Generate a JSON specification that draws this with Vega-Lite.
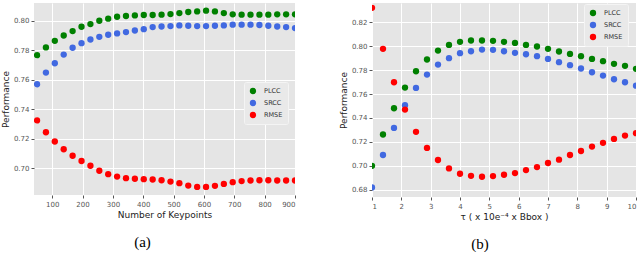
{
 "$schema": "https://vega.github.io/schema/vega-lite/v6.json",
 "padding": {"left": 1, "top": 3, "right": 2, "bottom": 0},
 "spacing": 43,
 "background": "white",
 "config": {
  "view": {"fill": "#E5E5E5", "stroke": null},
  "axis": {"domain": false, "gridColor": "white", "gridWidth": 1, "tickColor": "#555555", "tickSize": 3, "labelColor": "#555555", "labelFontSize": 7, "labelFont": "DejaVu Sans", "titleFont": "DejaVu Sans", "titleFontSize": 9, "titleFontWeight": "normal", "titleColor": "#222222", "labelPadding": 2, "titlePadding": 3},
  "title": {"font": "Liberation Serif", "fontSize": 15, "fontWeight": "normal", "color": "#000000"},
  "legend": {"fillColor": "#E9E9E9", "strokeColor": "#F4F4F4", "padding": 5, "symbolSize": 40, "symbolType": "circle", "labelFontSize": 6.5, "labelFont": "DejaVu Sans", "labelColor": "#333333", "rowPadding": 4, "labelOffset": 7, "cornerRadius": 2}
 },
 "resolve": {"scale": {"color": "independent"}, "legend": {"color": "independent"}},
 "datasets": {
  "a": [
   {"x":50,"metric":"PLCC","value":0.7767},{"x":50,"metric":"SRCC","value":0.757},{"x":50,"metric":"RMSE","value":0.7325},
   {"x":79.3,"metric":"PLCC","value":0.7819},{"x":79.3,"metric":"SRCC","value":0.7649},{"x":79.3,"metric":"RMSE","value":0.7245},
   {"x":108.6,"metric":"PLCC","value":0.7864},{"x":108.6,"metric":"SRCC","value":0.7712},{"x":108.6,"metric":"RMSE","value":0.7182},
   {"x":137.9,"metric":"PLCC","value":0.790},{"x":137.9,"metric":"SRCC","value":0.7771},{"x":137.9,"metric":"RMSE","value":0.713},
   {"x":167.2,"metric":"PLCC","value":0.793},{"x":167.2,"metric":"SRCC","value":0.7817},{"x":167.2,"metric":"RMSE","value":0.7086},
   {"x":196.6,"metric":"PLCC","value":0.7959},{"x":196.6,"metric":"SRCC","value":0.7848},{"x":196.6,"metric":"RMSE","value":0.705},
   {"x":225.9,"metric":"PLCC","value":0.7977},{"x":225.9,"metric":"SRCC","value":0.7873},{"x":225.9,"metric":"RMSE","value":0.7018},
   {"x":255.2,"metric":"PLCC","value":0.800},{"x":255.2,"metric":"SRCC","value":0.7891},{"x":255.2,"metric":"RMSE","value":0.6984},
   {"x":284.5,"metric":"PLCC","value":0.8014},{"x":284.5,"metric":"SRCC","value":0.7905},{"x":284.5,"metric":"RMSE","value":0.6961},
   {"x":313.8,"metric":"PLCC","value":0.8027},{"x":313.8,"metric":"SRCC","value":0.7914},{"x":313.8,"metric":"RMSE","value":0.6945},
   {"x":343.1,"metric":"PLCC","value":0.8032},{"x":343.1,"metric":"SRCC","value":0.7923},{"x":343.1,"metric":"RMSE","value":0.6934},
   {"x":372.4,"metric":"PLCC","value":0.8036},{"x":372.4,"metric":"SRCC","value":0.7934},{"x":372.4,"metric":"RMSE","value":0.693},
   {"x":401.7,"metric":"PLCC","value":0.8039},{"x":401.7,"metric":"SRCC","value":0.7943},{"x":401.7,"metric":"RMSE","value":0.6927},
   {"x":431.0,"metric":"PLCC","value":0.8039},{"x":431.0,"metric":"SRCC","value":0.7957},{"x":431.0,"metric":"RMSE","value":0.6925},
   {"x":460.3,"metric":"PLCC","value":0.8041},{"x":460.3,"metric":"SRCC","value":0.7961},{"x":460.3,"metric":"RMSE","value":0.692},
   {"x":489.7,"metric":"PLCC","value":0.8045},{"x":489.7,"metric":"SRCC","value":0.7964},{"x":489.7,"metric":"RMSE","value":0.6911},
   {"x":519.0,"metric":"PLCC","value":0.8052},{"x":519.0,"metric":"SRCC","value":0.7968},{"x":519.0,"metric":"RMSE","value":0.690},
   {"x":548.3,"metric":"PLCC","value":0.8059},{"x":548.3,"metric":"SRCC","value":0.7966},{"x":548.3,"metric":"RMSE","value":0.6884},
   {"x":577.6,"metric":"PLCC","value":0.8063},{"x":577.6,"metric":"SRCC","value":0.7964},{"x":577.6,"metric":"RMSE","value":0.6875},
   {"x":606.9,"metric":"PLCC","value":0.8068},{"x":606.9,"metric":"SRCC","value":0.7964},{"x":606.9,"metric":"RMSE","value":0.6875},
   {"x":636.2,"metric":"PLCC","value":0.8063},{"x":636.2,"metric":"SRCC","value":0.7966},{"x":636.2,"metric":"RMSE","value":0.6882},
   {"x":665.5,"metric":"PLCC","value":0.8052},{"x":665.5,"metric":"SRCC","value":0.7968},{"x":665.5,"metric":"RMSE","value":0.6895},
   {"x":694.8,"metric":"PLCC","value":0.8043},{"x":694.8,"metric":"SRCC","value":0.7973},{"x":694.8,"metric":"RMSE","value":0.6907},
   {"x":724.1,"metric":"PLCC","value":0.8041},{"x":724.1,"metric":"SRCC","value":0.7973},{"x":724.1,"metric":"RMSE","value":0.6914},
   {"x":753.4,"metric":"PLCC","value":0.8041},{"x":753.4,"metric":"SRCC","value":0.7973},{"x":753.4,"metric":"RMSE","value":0.6918},
   {"x":782.8,"metric":"PLCC","value":0.8041},{"x":782.8,"metric":"SRCC","value":0.7971},{"x":782.8,"metric":"RMSE","value":0.692},
   {"x":812.1,"metric":"PLCC","value":0.8041},{"x":812.1,"metric":"SRCC","value":0.7966},{"x":812.1,"metric":"RMSE","value":0.692},
   {"x":841.4,"metric":"PLCC","value":0.8043},{"x":841.4,"metric":"SRCC","value":0.7961},{"x":841.4,"metric":"RMSE","value":0.6918},
   {"x":870.7,"metric":"PLCC","value":0.8043},{"x":870.7,"metric":"SRCC","value":0.7957},{"x":870.7,"metric":"RMSE","value":0.6918},
   {"x":900,"metric":"PLCC","value":0.8043},{"x":900,"metric":"SRCC","value":0.795},{"x":900,"metric":"RMSE","value":0.6918}
  ],
  "b": [
   {"x":1,"metric":"PLCC","value":0.700},{"x":1,"metric":"SRCC","value":0.682},{"x":1,"metric":"RMSE","value":0.832},
   {"x":1.375,"metric":"PLCC","value":0.7262},{"x":1.375,"metric":"SRCC","value":0.7091},{"x":1.375,"metric":"RMSE","value":0.7977},
   {"x":1.75,"metric":"PLCC","value":0.7481},{"x":1.75,"metric":"SRCC","value":0.7317},{"x":1.75,"metric":"RMSE","value":0.7698},
   {"x":2.125,"metric":"PLCC","value":0.7654},{"x":2.125,"metric":"SRCC","value":0.7506},{"x":2.125,"metric":"RMSE","value":0.747},
   {"x":2.5,"metric":"PLCC","value":0.779},{"x":2.5,"metric":"SRCC","value":0.7651},{"x":2.5,"metric":"RMSE","value":0.7284},
   {"x":2.875,"metric":"PLCC","value":0.7888},{"x":2.875,"metric":"SRCC","value":0.7762},{"x":2.875,"metric":"RMSE","value":0.715},
   {"x":3.25,"metric":"PLCC","value":0.7963},{"x":3.25,"metric":"SRCC","value":0.7846},{"x":3.25,"metric":"RMSE","value":0.7049},
   {"x":3.625,"metric":"PLCC","value":0.801},{"x":3.625,"metric":"SRCC","value":0.7899},{"x":3.625,"metric":"RMSE","value":0.6979},
   {"x":4.0,"metric":"PLCC","value":0.8036},{"x":4.0,"metric":"SRCC","value":0.7941},{"x":4.0,"metric":"RMSE","value":0.6934},
   {"x":4.375,"metric":"PLCC","value":0.8047},{"x":4.375,"metric":"SRCC","value":0.7957},{"x":4.375,"metric":"RMSE","value":0.6917},
   {"x":4.75,"metric":"PLCC","value":0.8047},{"x":4.75,"metric":"SRCC","value":0.7971},{"x":4.75,"metric":"RMSE","value":0.6909},
   {"x":5.125,"metric":"PLCC","value":0.8044},{"x":5.125,"metric":"SRCC","value":0.7969},{"x":5.125,"metric":"RMSE","value":0.6915},
   {"x":5.5,"metric":"PLCC","value":0.8036},{"x":5.5,"metric":"SRCC","value":0.7957},{"x":5.5,"metric":"RMSE","value":0.6926},
   {"x":5.875,"metric":"PLCC","value":0.8027},{"x":5.875,"metric":"SRCC","value":0.7944},{"x":5.875,"metric":"RMSE","value":0.694},
   {"x":6.25,"metric":"PLCC","value":0.801},{"x":6.25,"metric":"SRCC","value":0.7932},{"x":6.25,"metric":"RMSE","value":0.6965},
   {"x":6.625,"metric":"PLCC","value":0.7997},{"x":6.625,"metric":"SRCC","value":0.7916},{"x":6.625,"metric":"RMSE","value":0.699},
   {"x":7.0,"metric":"PLCC","value":0.7977},{"x":7.0,"metric":"SRCC","value":0.7893},{"x":7.0,"metric":"RMSE","value":0.7024},
   {"x":7.375,"metric":"PLCC","value":0.7955},{"x":7.375,"metric":"SRCC","value":0.7866},{"x":7.375,"metric":"RMSE","value":0.7052},
   {"x":7.75,"metric":"PLCC","value":0.7935},{"x":7.75,"metric":"SRCC","value":0.7841},{"x":7.75,"metric":"RMSE","value":0.7091},
   {"x":8.125,"metric":"PLCC","value":0.7916},{"x":8.125,"metric":"SRCC","value":0.7813},{"x":8.125,"metric":"RMSE","value":0.7124},
   {"x":8.5,"metric":"PLCC","value":0.7893},{"x":8.5,"metric":"SRCC","value":0.7782},{"x":8.5,"metric":"RMSE","value":0.7161},
   {"x":8.875,"metric":"PLCC","value":0.7874},{"x":8.875,"metric":"SRCC","value":0.7754},{"x":8.875,"metric":"RMSE","value":0.7192},
   {"x":9.25,"metric":"PLCC","value":0.7852},{"x":9.25,"metric":"SRCC","value":0.7723},{"x":9.25,"metric":"RMSE","value":0.7225},
   {"x":9.625,"metric":"PLCC","value":0.7835},{"x":9.625,"metric":"SRCC","value":0.7698},{"x":9.625,"metric":"RMSE","value":0.7253},
   {"x":10,"metric":"PLCC","value":0.781},{"x":10,"metric":"SRCC","value":0.767},{"x":10,"metric":"RMSE","value":0.7273}
  ]
 },
 "hconcat": [
  {
   "width": 261, "height": 192,
   "data": {"name": "a"},
   "title": {"text": "(a)", "orient": "bottom", "dx": -22, "offset": 16},
   "mark": {"type": "point", "filled": true, "size": 40, "opacity": 1, "clip": true},
   "encoding": {
    "x": {"field": "x", "type": "quantitative", "scale": {"domain": [40, 900], "nice": false, "zero": false}, "axis": {"title": "Number of Keypoints", "values": [100,200,300,400,500,600,700,800,900]}},
    "y": {"field": "value", "type": "quantitative", "scale": {"domain": [0.682, 0.812], "nice": false, "zero": false}, "axis": {"title": "Performance", "values": [0.70,0.72,0.74,0.76,0.78,0.80], "format": ".2f"}},
    "color": {"field": "metric", "type": "nominal", "scale": {"domain": ["PLCC","SRCC","RMSE"], "range": ["#008000","#4169E1","#FF0000"]}, "legend": {"title": null, "orient": "none", "legendX": 210, "legendY": 79}}
   }
  },
  {
   "width": 264, "height": 194,
   "data": {"name": "b"},
   "title": {"text": "(b)", "orient": "bottom", "dx": -24, "offset": 16},
   "mark": {"type": "point", "filled": true, "size": 40, "opacity": 1, "clip": true},
   "encoding": {
    "x": {"field": "x", "type": "quantitative", "scale": {"domain": [1, 10], "nice": false, "zero": false}, "axis": {"title": "τ ( x 10e⁻⁴ x Bbox )", "values": [1,2,3,4,5,6,7,8,9,10]}},
    "y": {"field": "value", "type": "quantitative", "scale": {"domain": [0.674, 0.836], "nice": false, "zero": false}, "axis": {"title": "Performance", "values": [0.68,0.70,0.72,0.74,0.76,0.78,0.80,0.82], "format": ".2f"}},
    "color": {"field": "metric", "type": "nominal", "scale": {"domain": ["PLCC","SRCC","RMSE"], "range": ["#008000","#4169E1","#FF0000"]}, "legend": {"title": null, "orient": "none", "legendX": 212, "legendY": 1}}
   }
  }
 ]
}
